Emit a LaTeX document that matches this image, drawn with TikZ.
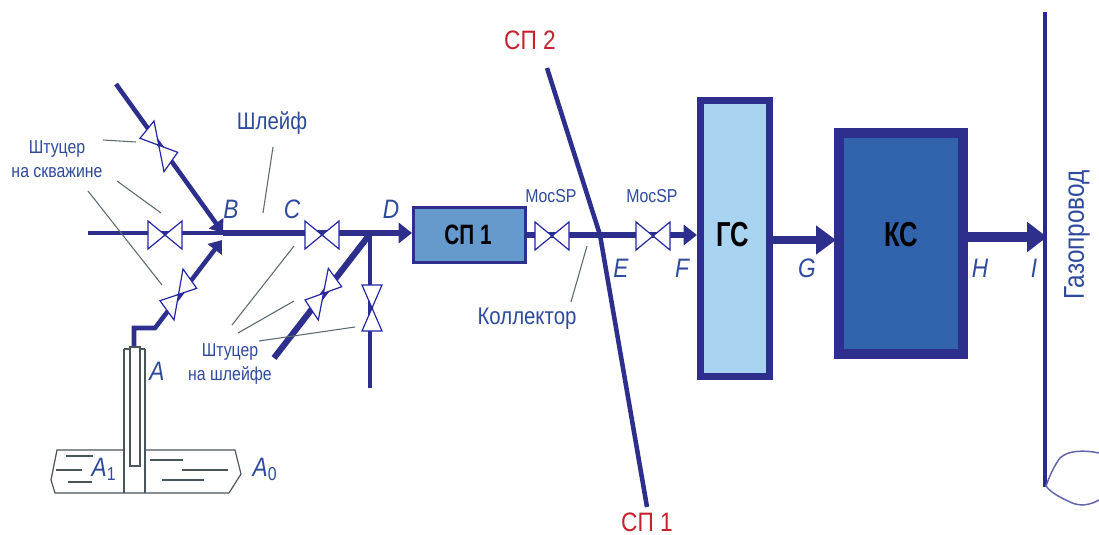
\documentclass[tikz,border=0pt]{standalone}
\usepackage{fontspec}
\setmainfont{Liberation Sans}
\newfontfamily\narrowf[FakeStretch=0.85]{Liberation Sans}
\newfontfamily\boxf[FakeStretch=0.74]{Liberation Sans}
\usetikzlibrary{arrows.meta}
\definecolor{pipe}{HTML}{2E2F8C}
\definecolor{txt}{HTML}{2F4A9C}
\definecolor{lead}{HTML}{5A6A70}
\definecolor{redt}{HTML}{C5222E}
\definecolor{spfill}{HTML}{6699CC}
\definecolor{gsfill}{HTML}{A8D4F2}
\definecolor{ksfill}{HTML}{3264AE}
\tikzset{
  x=0.75pt,y=-0.75pt,
  pipeA/.style={draw=pipe,line width=3.4pt},
  pipeB/.style={draw=pipe,line width=4.6pt},
  lead/.style={draw=lead,line width=0.8pt},
  well/.style={draw=lead!80!black,line width=0.9pt},
  lab/.style={text=txt,inner sep=0pt,font=\narrowf\fontsize{18}{22}\selectfont,align=center},
  lab2/.style={text=txt,inner sep=0pt,font=\narrowf\fontsize{14}{18}\selectfont,align=center},
  let/.style={text=txt,inner sep=0pt,font=\narrowf\itshape\fontsize{20}{24}\selectfont},
  redl/.style={text=redt,inner sep=0pt,font=\narrowf\fontsize{20}{24}\selectfont},
  boxt/.style={text=black,inner sep=0pt,font=\boxf\bfseries\fontsize{26}{30}\selectfont},
  valveln/.style={draw=pipe!80!blue,line width=0.9pt,fill=white},
  pics/valve/.style args={#1/#2}{code={
    \draw[valveln] (-#1,-#2) -- (#1,#2) -- (#1,-#2) -- (-#1,#2) -- cycle;
    \fill[pipe] (0,0) circle (1.6);
  }},
}
\begin{document}
\begin{tikzpicture}
\useasboundingbox (0,0) rectangle (1099,535);
% junction coordinates
\coordinate (a0) at (88,233);
\coordinate (b) at (223,233);
\coordinate (j) at (370,234);
\coordinate (t0) at (116,84);
\coordinate (w0) at (134,348);
\coordinate (w1) at (134,328);
\coordinate (w2) at (155,328);
\coordinate (bb) at (222,240);
\coordinate (e1) at (274,358);
\coordinate (e2) at (370,388);
\coordinate (sa) at (547,68);
\coordinate (sb) at (600,235);
\coordinate (sc) at (647,507);
\coordinate (fT) at (697,235);
\coordinate (cI) at (1047,237);
% boxes
\node[draw=pipe,line width=2.25pt,fill=spfill,minimum width=84pt,minimum height=41.25pt,inner sep=0pt] (sp) at (469.5,235) {};
\node[draw=pipe,line width=5.25pt,fill=gsfill,minimum width=51.75pt,minimum height=207pt,inner sep=0pt] (gs) at (735,238.5) {};
\node[draw=pipe,line width=7.5pt,fill=ksfill,minimum width=93pt,minimum height=165.75pt,inner sep=0pt] (ks) at (901,243.5) {};
\node[boxt,font=\boxf\bfseries\fontsize{21}{24}\selectfont] (spT) at (468,235) {СП 1};
\node[boxt] (gsT) at (733,235) {ГС};
\node[boxt] (ksT) at (901,235) {КС};
% pipes
\draw[pipeA] (a0) -- (b);
\draw[pipeA,-{Triangle[length=9pt,width=13pt]}] (t0) -- (b);
\draw[pipeA,-{Triangle[length=9pt,width=13pt]},line join=miter] (w0) -- (w1) -- (w2) -- (bb);
\draw[pipeB,-{Triangle[length=10pt,width=15pt]}] (b) -- (b -| sp.west);
\draw[pipeB] (j) -- (e1);
\draw[pipeA] (j) -- (e2);
\draw[pipeB] (sp.east |- sb) -- (sb);
\draw[pipeB,-{Triangle[length=10pt,width=15pt]}] (sb) -- (fT);
\draw[pipeA,line join=round] (sa) -- (sb) -- (sc);
\draw[draw=pipe,line width=6.2pt,-{Triangle[length=15pt,width=21pt]}] (773,240) coordinate (g0) -- (836,240) coordinate (g1);
\draw[draw=pipe,line width=7pt,-{Triangle[length=15pt,width=22pt]}] (ks.east |- cI) -- (cI);
% gas main
\draw[draw=pipe!90!blue,line width=2.3pt] (1045,12) coordinate (m0) -- (1045,487) coordinate (m1);
\draw[draw=pipe!75!white,line width=1.1pt] (1099,453) .. controls (1085,450) and (1068,450) .. (1060,458) .. controls (1054,466) and (1050,475) .. (1046,486) .. controls (1052,494) and (1062,498) .. (1070,502) .. controls (1080,507) and (1090,505) .. (1099,500);
% leaders
\draw[lead] (103,140) coordinate (l1a) -- (136,142) coordinate (l1b);
\draw[lead] (117,181) coordinate (l2a) -- (161,213) coordinate (l2b);
\draw[lead] (88,191) coordinate (l3a) -- (162,285) coordinate (l3b);
\draw[lead] (273,147) coordinate (l4a) -- (263,213) coordinate (l4b);
\draw[lead] (294,246) coordinate (l5a) -- (232,325) coordinate (l5b);
\draw[lead] (294,301) coordinate (l6a) -- (238,333) coordinate (l6b);
\draw[lead] (355,327) coordinate (l7a) -- (259,341) coordinate (l7b);
\draw[lead] (587,246) coordinate (l8a) -- (571,302) coordinate (l8b);
% valves
\draw[valveln] (154,121) -- (164,171.7) -- (177.7,152.3) -- (140,138.3) -- cycle;
\pic at (165,235) {valve={17/14}};
\draw[valveln] (183,269) -- (174,320) -- (160,300.7) -- (196.7,288.3) -- cycle;
\pic at (322,235) {valve={17/14}};
\draw[valveln] (328.3,268.3) -- (318.3,320) -- (305,300) -- (341.7,286.7) -- cycle;
\pic[rotate=90] at (372,308) {valve={23/10}};
\pic at (552,236) {valve={17/14}};
\pic at (653,236) {valve={17/14}};
% well
\draw[well] (124,349) -- (145,349);
\draw[well] (124,349) -- (124,493);
\draw[well] (145,349) -- (145,493);
\draw[well,fill=white] (130,347) rectangle (140,466);
\draw[well] (124,450) -- (57,450) -- (51,480) -- (55,493) -- (229,493);
\draw[well] (145,450) -- (235,450) -- (241,474) -- (229,493);
\draw[well] (66,456) -- (93,456) (56,470) -- (82,470) (68,482) -- (92,482);
\draw[well] (150,460) -- (183,460) (182,470) -- (228,470) (162,480) -- (204,480);
% texts
\node[lab] (t1) at (272,123) {Шлейф};
\node[lab2] (t2) at (57,159) {Штуцер\\на скважине};
\node[lab2] (t3) at (230,364) {Штуцер\\на шлейфе};
\node[lab2] (t4) at (551,196) {MocSP};
\node[lab2] (t5) at (652,196) {MocSP};
\node[lab] (t6) at (527,319) {Коллектор};
\node[redl] (t7) at (530,40) {СП 2};
\node[redl] (t8) at (647,522) {СП 1};
\node[lab,rotate=90,font=\narrowf\fontsize{21.5}{24}\selectfont] (t9) at (1077,235) {Газопровод};
\node[let] (lB) at (231,209) {B};
\node[let] (lC) at (292,209) {C};
\node[let] (lD) at (391,209) {D};
\node[let] (lE) at (621,268) {E};
\node[let] (lF) at (682,268) {F};
\node[let] (lG) at (807,268) {G};
\node[let] (lH) at (980,268) {H};
\node[let] (lI) at (1034,268) {I};
\node[let] (lA) at (157,371) {A};
\node[let] (lA1) at (104,469) {A\textsubscript{\normalfont\narrowf 1}};
\node[let] (lA0) at (265,469) {A\textsubscript{\normalfont\narrowf 0}};
\end{tikzpicture}
\end{document}
